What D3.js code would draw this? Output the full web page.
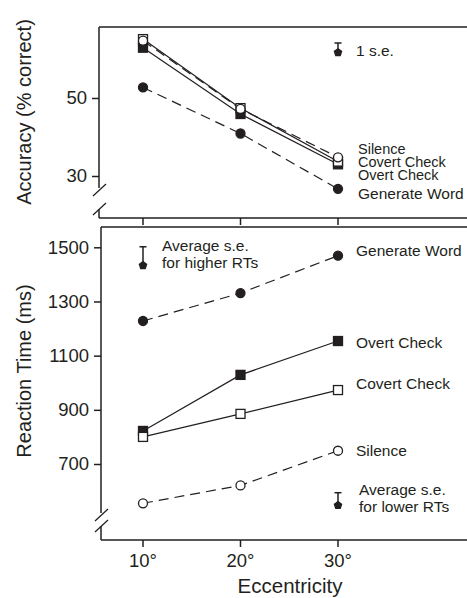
<!DOCTYPE html>
<html>
<head>
<meta charset="utf-8">
<script src="https://cdn.jsdelivr.net/npm/d3@7"></script>
<style>
  body { margin: 0; background: #fff; }
  svg { display: block; }
  text { font-family: "Liberation Sans", Arial, sans-serif; fill: #231f20; }
</style>
</head>
<body>
<svg id="chart" width="467" height="598"></svg>
<script>
const eccentricity = [10, 20, 30];
const tickLabels = ["10°", "20°", "30°"];

// accuracy (% correct)
const accSilence = [64.7, 47.2, 34.8];
const accCovert = [65.1, 47.4, 33.7];
const accOvert = [62.9, 45.9, 33.0];
const accGenerate = [52.7, 40.9, 26.7];
const accTicks = [30, 50];
const accSE = { x: 30, y: 61.8, se: 2.3 };

// reaction time (ms)
const rtGenerate = [1228, 1331, 1469];
const rtOvert = [822, 1029, 1154];
const rtCovert = [800, 885, 973];
const rtSilence = [555, 621, 749];
const rtTicks = [700, 900, 1100, 1300, 1500];
const rtSEHigh = { x: 10, y: 1435, se: 67 };
const rtSELow = { x: 30, y: 549, se: 45 };

const ink = "#231f20";
const svg = d3.select("#chart");

const x = d3.scaleLinear().domain([10, 30]).range([143, 338]);
const yAcc = d3.scaleLinear().domain([30, 50]).range([176, 98]);
const yRT = d3.scaleLinear().domain([700, 1500]).range([464, 247.3]);

function pentagon(r) {
  const pts = d3.range(5).map(function (i) {
    const a = -Math.PI / 2 + (i * 2 * Math.PI) / 5;
    return [r * Math.cos(a), r * Math.sin(a)];
  });
  return "M" + pts.join("L") + "Z";
}

function frame(left, top, bottom, breakTop, breakBot) {
  const g = svg.append("g").attr("stroke", ink).attr("fill", "none").attr("stroke-width", 1.5);
  g.append("line").attr("x1", left).attr("x2", 467).attr("y1", top).attr("y2", top);
  g.append("line").attr("x1", left).attr("x2", 467).attr("y1", bottom).attr("y2", bottom);
  g.append("line").attr("x1", left).attr("x2", left).attr("y1", top).attr("y2", breakTop);
  g.append("line").attr("x1", left).attr("x2", left).attr("y1", breakBot).attr("y2", bottom);
  // break slashes
  g.append("line").attr("x1", left - 6).attr("x2", left + 7)
    .attr("y1", breakTop + 8).attr("y2", breakTop - 4).attr("stroke-width", 1.2);
  g.append("line").attr("x1", left - 6).attr("x2", left + 7)
    .attr("y1", breakBot + 6).attr("y2", breakBot - 6).attr("stroke-width", 1.2);
  // x ticks pointing down
  eccentricity.forEach(function (v) {
    g.append("line").attr("x1", x(v)).attr("x2", x(v))
      .attr("y1", bottom).attr("y2", bottom + 7);
  });
}

function yAxis(scale, ticks, left) {
  const g = svg.append("g")
    .attr("transform", `translate(${left},0)`)
    .call(d3.axisLeft(scale).tickValues(ticks).tickFormat(d3.format("d"))
      .tickSize(7).tickPadding(5).tickSizeOuter(0));
  g.select(".domain").remove();
  g.selectAll(".tick line").attr("stroke", ink).attr("stroke-width", 1.5);
  g.selectAll(".tick text")
    .style("font-family", '"Liberation Sans", Arial, sans-serif')
    .style("font-size", "18.5px").attr("fill", ink);
}

function series(scale, values, opts) {
  const pts = values.map(function (v, i) { return [x(eccentricity[i]), scale(v)]; });
  svg.append("path")
    .attr("d", d3.line()(pts))
    .attr("fill", "none")
    .attr("stroke", ink)
    .attr("stroke-width", 1.2)
    .attr("stroke-dasharray", opts.dashed ? "10,6" : null);
  return pts;
}

function markers(pts, shape, filled) {
  pts.forEach(function (p) {
    let m;
    if (shape == "circle") {
      m = svg.append("circle").attr("cx", p[0]).attr("cy", p[1]).attr("r", 4.5);
    } else {
      m = svg.append("rect").attr("x", p[0] - 4.5).attr("y", p[1] - 4.5)
        .attr("width", 9).attr("height", 9);
    }
    m.attr("fill", filled ? ink : "#fff").attr("stroke", ink).attr("stroke-width", 1.3);
  });
}

function seMarker(scale, d) {
  const cx = x(d.x), cy = scale(d.y), top = scale(d.y + d.se);
  svg.append("line").attr("x1", cx).attr("x2", cx).attr("y1", top).attr("y2", cy)
    .attr("stroke", ink).attr("stroke-width", 1.5);
  svg.append("line").attr("x1", cx - 3.5).attr("x2", cx + 3.5).attr("y1", top).attr("y2", top)
    .attr("stroke", ink).attr("stroke-width", 1.5);
  svg.append("path").attr("d", pentagon(4.6))
    .attr("transform", `translate(${cx},${cy + 0.5})`).attr("fill", ink);
}

function label(tx, ty, str, size) {
  svg.append("text").attr("x", tx).attr("y", ty)
    .style("font-size", (size || 15.5) + "px").text(str);
}

// ---- top panel: accuracy
frame(99, 27, 218, 188, 209);
yAxis(yAcc, accTicks, 99);

const aGen = series(yAcc, accGenerate, { dashed: true });
const aOv = series(yAcc, accOvert, {});
const aCov = series(yAcc, accCovert, {});
const aSil = series(yAcc, accSilence, { dashed: true });
markers(aGen, "circle", true);
markers(aOv, "square", true);
markers(aCov, "square", false);
markers(aSil, "circle", false);
seMarker(yAcc, accSE);

label(356, 56, "1 s.e.");
label(358, 154, "Silence", 14.5);
label(358, 167, "Covert Check", 14.5);
label(358, 180, "Overt Check", 14.5);
label(358, 199, "Generate Word", 15.5);

// ---- bottom panel: reaction time
frame(101, 227, 540, 513, 526);
yAxis(yRT, rtTicks, 101);

const rGen = series(yRT, rtGenerate, { dashed: true });
const rOv = series(yRT, rtOvert, {});
const rCov = series(yRT, rtCovert, {});
const rSil = series(yRT, rtSilence, { dashed: true });
markers(rGen, "circle", true);
markers(rOv, "square", true);
markers(rCov, "square", false);
markers(rSil, "circle", false);
seMarker(yRT, rtSEHigh);
seMarker(yRT, rtSELow);

label(162, 251, "Average s.e.");
label(162, 268, "for higher RTs");
label(359, 495, "Average s.e.");
label(359, 512, "for lower RTs");

label(356, 256, "Generate Word");
label(356, 348, "Overt Check");
label(356, 389, "Covert Check");
label(356, 456, "Silence");

// x tick labels
svg.append("g").selectAll("text")
  .data(eccentricity)
  .join("text")
  .attr("x", function (d) { return x(d); })
  .attr("y", 567)
  .attr("text-anchor", "middle")
  .style("font-size", "18.5px")
  .text(function (d, i) { return tickLabels[i]; });

// axis titles
svg.append("text").attr("x", 290).attr("y", 593).attr("text-anchor", "middle")
  .style("font-size", "20.5px").text("Eccentricity");
svg.append("text").attr("transform", "translate(31,112) rotate(-90)")
  .attr("text-anchor", "middle").style("font-size", "20px").text("Accuracy (% correct)");
svg.append("text").attr("transform", "translate(31,371) rotate(-90)")
  .attr("text-anchor", "middle").style("font-size", "20px").text("Reaction Time (ms)");
</script>
</body>
</html>
